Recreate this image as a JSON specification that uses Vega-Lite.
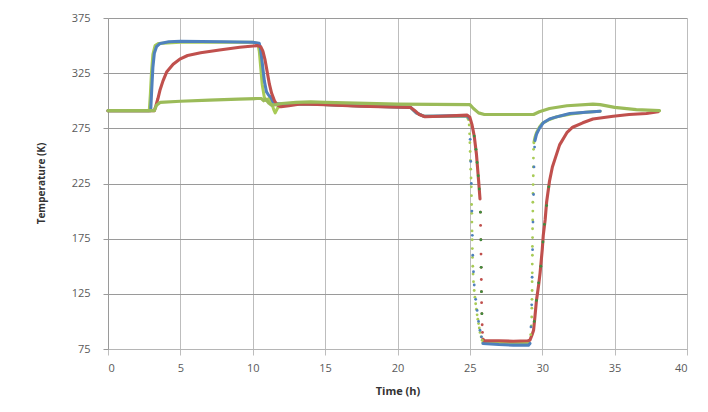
{
  "$schema": "https://vega.github.io/schema/vega-lite/v6.json",
  "width": 579,
  "height": 331,
  "autosize": {"type": "none"},
  "padding": {"left": 108, "top": 18, "right": 21, "bottom": 63},
  "background": "white",
  "config": {
    "view": {"stroke": null},
    "axis": {"labelFont": "Open Sans", "labelFontSize": 11, "labelColor": "#5a5a5a", "titleFont": "Open Sans", "titleColor": "#333"}
  },
  "data": {"values": [
    {"n":"L","t":0,"v":291,"s":1},{"n":"L","t":2.85,"v":291,"s":1},{"n":"L","t":2.92,"v":305,"s":1},{"n":"L","t":3.0,"v":325,"s":1},{"n":"L","t":3.1,"v":342,"s":1},{"n":"L","t":3.25,"v":350,"s":1},{"n":"L","t":3.5,"v":352,"s":1},{"n":"L","t":5,"v":353,"s":1},{"n":"L","t":10,"v":353,"s":1},{"n":"L","t":10.35,"v":352,"s":1},{"n":"L","t":10.45,"v":345,"s":1},{"n":"L","t":10.55,"v":330,"s":1},{"n":"L","t":10.65,"v":315,"s":1},{"n":"L","t":10.8,"v":303,"s":1},{"n":"L","t":10.95,"v":300,"s":1},{"n":"L","t":11.1,"v":302,"s":1},{"n":"L","t":11.3,"v":298,"s":1},{"n":"L","t":11.45,"v":292,"s":1},{"n":"L","t":11.55,"v":289,"s":1},{"n":"L","t":11.7,"v":293,"s":1},{"n":"L","t":12,"v":296.5,"s":1},{"n":"L","t":14,"v":297,"s":1},{"n":"L","t":17,"v":295.5,"s":1},{"n":"L","t":20.9,"v":294,"s":1},{"n":"L","t":21.3,"v":289,"s":1},{"n":"L","t":21.8,"v":286,"s":1},{"n":"L","t":24.8,"v":286,"s":1},{"n":"L","t":24.9,"v":283,"s":1},
    {"n":"L","t":24.95,"v":278,"s":0},{"n":"L","t":24.98,"v":270,"s":0},{"n":"L","t":25.0,"v":262,"s":0},{"n":"L","t":25.02,"v":254,"s":0},{"n":"L","t":25.04,"v":246,"s":0},{"n":"L","t":25.06,"v":238,"s":0},{"n":"L","t":25.08,"v":230,"s":0},{"n":"L","t":25.1,"v":222,"s":0},{"n":"L","t":25.11,"v":214,"s":0},{"n":"L","t":25.12,"v":206,"s":0},{"n":"L","t":25.13,"v":198,"s":0},{"n":"L","t":25.14,"v":190,"s":0},{"n":"L","t":25.15,"v":182,"s":0},{"n":"L","t":25.16,"v":174,"s":0},{"n":"L","t":25.17,"v":166,"s":0},{"n":"L","t":25.18,"v":158,"s":0},{"n":"L","t":25.2,"v":150,"s":0},{"n":"L","t":25.22,"v":143,"s":0},{"n":"L","t":25.25,"v":136,"s":0},{"n":"L","t":25.3,"v":128,"s":0},{"n":"L","t":25.35,"v":122,"s":0},{"n":"L","t":25.4,"v":116,"s":0},{"n":"L","t":25.45,"v":111,"s":0},{"n":"L","t":25.5,"v":106,"s":0},{"n":"L","t":25.55,"v":102,"s":0},{"n":"L","t":25.6,"v":98,"s":0},{"n":"L","t":25.65,"v":94,"s":0},{"n":"L","t":25.7,"v":90,"s":0},{"n":"L","t":25.78,"v":86,"s":0},{"n":"L","t":25.85,"v":83,"s":0},
    {"n":"L","t":25.9,"v":81,"s":2},{"n":"L","t":27,"v":80,"s":2},{"n":"L","t":28,"v":80,"s":2},{"n":"L","t":29.1,"v":80.5,"s":2},
    {"n":"L","t":29.2,"v":88,"s":0},{"n":"L","t":29.25,"v":96,"s":0},{"n":"L","t":29.27,"v":104,"s":0},{"n":"L","t":29.28,"v":112,"s":0},{"n":"L","t":29.29,"v":120,"s":0},{"n":"L","t":29.3,"v":128,"s":0},{"n":"L","t":29.3,"v":136,"s":0},{"n":"L","t":29.31,"v":144,"s":0},{"n":"L","t":29.31,"v":152,"s":0},{"n":"L","t":29.32,"v":160,"s":0},{"n":"L","t":29.32,"v":168,"s":0},{"n":"L","t":29.33,"v":176,"s":0},{"n":"L","t":29.33,"v":184,"s":0},{"n":"L","t":29.34,"v":192,"s":0},{"n":"L","t":29.35,"v":200,"s":0},{"n":"L","t":29.35,"v":208,"s":0},{"n":"L","t":29.36,"v":216,"s":0},{"n":"L","t":29.37,"v":224,"s":0},{"n":"L","t":29.38,"v":232,"s":0},{"n":"L","t":29.38,"v":240,"s":0},{"n":"L","t":29.39,"v":248,"s":0},{"n":"L","t":29.4,"v":256,"s":0},
    {"n":"L","t":29.42,"v":262,"s":3},{"n":"L","t":29.5,"v":267,"s":3},{"n":"L","t":29.6,"v":271,"s":3},{"n":"L","t":29.8,"v":276,"s":3},{"n":"L","t":30,"v":279.5,"s":3},{"n":"L","t":30.5,"v":283,"s":3},{"n":"L","t":31,"v":285.5,"s":3},{"n":"L","t":32,"v":288,"s":3},{"n":"L","t":33,"v":289.5,"s":3},{"n":"L","t":34,"v":290.5,"s":3},

    {"n":"B","t":0,"v":291,"s":1},{"n":"B","t":2.95,"v":291,"s":1},{"n":"B","t":3.02,"v":310,"s":1},{"n":"B","t":3.1,"v":330,"s":1},{"n":"B","t":3.2,"v":343,"s":1},{"n":"B","t":3.35,"v":349,"s":1},{"n":"B","t":3.6,"v":352,"s":1},{"n":"B","t":4.2,"v":353.5,"s":1},{"n":"B","t":5,"v":354,"s":1},{"n":"B","t":8,"v":353.5,"s":1},{"n":"B","t":10,"v":353,"s":1},{"n":"B","t":10.45,"v":352,"s":1},{"n":"B","t":10.55,"v":346,"s":1},{"n":"B","t":10.65,"v":335,"s":1},{"n":"B","t":10.8,"v":318,"s":1},{"n":"B","t":10.95,"v":308,"s":1},{"n":"B","t":11.1,"v":305,"s":1},{"n":"B","t":11.25,"v":303,"s":1},{"n":"B","t":11.4,"v":299,"s":1},{"n":"B","t":11.6,"v":297.5,"s":1},{"n":"B","t":12,"v":297,"s":1},{"n":"B","t":14,"v":297,"s":1},{"n":"B","t":17,"v":295.5,"s":1},{"n":"B","t":20.9,"v":294,"s":1},{"n":"B","t":21.3,"v":289,"s":1},{"n":"B","t":21.8,"v":286,"s":1},{"n":"B","t":24.8,"v":286.5,"s":1},{"n":"B","t":24.95,"v":284,"s":1},
    {"n":"B","t":25.02,"v":265,"s":0},{"n":"B","t":25.06,"v":245,"s":0},{"n":"B","t":25.1,"v":225,"s":0},{"n":"B","t":25.14,"v":200,"s":0},{"n":"B","t":25.17,"v":178,"s":0},{"n":"B","t":25.2,"v":160,"s":0},{"n":"B","t":25.25,"v":145,"s":0},{"n":"B","t":25.3,"v":133,"s":0},{"n":"B","t":25.4,"v":120,"s":0},{"n":"B","t":25.5,"v":110,"s":0},{"n":"B","t":25.6,"v":100,"s":0},{"n":"B","t":25.7,"v":92,"s":0},{"n":"B","t":25.8,"v":86,"s":0},
    {"n":"B","t":25.9,"v":80,"s":2},{"n":"B","t":27,"v":79,"s":2},{"n":"B","t":28,"v":78.5,"s":2},{"n":"B","t":29.05,"v":78.5,"s":2},{"n":"B","t":29.15,"v":80,"s":2},
    {"n":"B","t":29.22,"v":95,"s":0},{"n":"B","t":29.27,"v":115,"s":0},{"n":"B","t":29.3,"v":140,"s":0},{"n":"B","t":29.33,"v":165,"s":0},{"n":"B","t":29.36,"v":190,"s":0},{"n":"B","t":29.4,"v":215,"s":0},{"n":"B","t":29.43,"v":240,"s":0},{"n":"B","t":29.47,"v":258,"s":0},
    {"n":"B","t":29.5,"v":264,"s":3},{"n":"B","t":29.6,"v":269.5,"s":3},{"n":"B","t":29.8,"v":275,"s":3},{"n":"B","t":30.07,"v":280,"s":3},{"n":"B","t":30.5,"v":283.5,"s":3},{"n":"B","t":30.8,"v":284.7,"s":3},{"n":"B","t":31.5,"v":287,"s":3},{"n":"B","t":31.9,"v":288.4,"s":3},{"n":"B","t":33,"v":289.5,"s":3},{"n":"B","t":33.5,"v":290,"s":3},{"n":"B","t":34,"v":290.5,"s":3},

    {"n":"R","t":0,"v":291,"s":1},{"n":"R","t":3.2,"v":291,"s":1},{"n":"R","t":3.3,"v":295,"s":1},{"n":"R","t":3.45,"v":302,"s":1},{"n":"R","t":3.6,"v":310,"s":1},{"n":"R","t":3.8,"v":318,"s":1},{"n":"R","t":4.05,"v":326,"s":1},{"n":"R","t":4.5,"v":333,"s":1},{"n":"R","t":5,"v":338,"s":1},{"n":"R","t":5.5,"v":341,"s":1},{"n":"R","t":6.4,"v":343.5,"s":1},{"n":"R","t":7.7,"v":346,"s":1},{"n":"R","t":9.1,"v":348.5,"s":1},{"n":"R","t":10.3,"v":350,"s":1},{"n":"R","t":10.55,"v":349,"s":1},{"n":"R","t":10.7,"v":345,"s":1},{"n":"R","t":10.85,"v":337,"s":1},{"n":"R","t":11.0,"v":326,"s":1},{"n":"R","t":11.15,"v":315,"s":1},{"n":"R","t":11.3,"v":307,"s":1},{"n":"R","t":11.5,"v":300,"s":1},{"n":"R","t":11.7,"v":296,"s":1},{"n":"R","t":11.95,"v":294.5,"s":1},{"n":"R","t":12.5,"v":295.5,"s":1},{"n":"R","t":13.3,"v":297,"s":1},{"n":"R","t":15,"v":296.5,"s":1},{"n":"R","t":17.4,"v":295,"s":1},{"n":"R","t":20.9,"v":294,"s":1},{"n":"R","t":21.2,"v":291,"s":1},{"n":"R","t":21.5,"v":287.5,"s":1},{"n":"R","t":21.9,"v":285.5,"s":1},{"n":"R","t":23,"v":286,"s":1},{"n":"R","t":24.8,"v":287,"s":1},{"n":"R","t":25.0,"v":285,"s":1},{"n":"R","t":25.15,"v":278,"s":1},{"n":"R","t":25.3,"v":268,"s":1},{"n":"R","t":25.45,"v":252,"s":1},{"n":"R","t":25.6,"v":228,"s":1},{"n":"R","t":25.7,"v":211,"s":1},
    {"n":"R","t":25.73,"v":199,"s":0},{"n":"R","t":25.74,"v":187,"s":0},{"n":"R","t":25.76,"v":174,"s":0},{"n":"R","t":25.77,"v":161,"s":0},{"n":"R","t":25.78,"v":149,"s":0},{"n":"R","t":25.79,"v":138,"s":0},{"n":"R","t":25.8,"v":127,"s":0},{"n":"R","t":25.81,"v":117,"s":0},{"n":"R","t":25.83,"v":107,"s":0},{"n":"R","t":25.85,"v":97,"s":0},{"n":"R","t":25.87,"v":90,"s":0},
    {"n":"R","t":25.9,"v":84,"s":2},{"n":"R","t":26,"v":82.5,"s":2},{"n":"R","t":27,"v":82.5,"s":2},{"n":"R","t":28,"v":82,"s":2},{"n":"R","t":29,"v":82.5,"s":2},{"n":"R","t":29.15,"v":83,"s":2},{"n":"R","t":29.3,"v":88,"s":2},{"n":"R","t":29.4,"v":92,"s":2},{"n":"R","t":29.5,"v":105,"s":2},{"n":"R","t":29.6,"v":119,"s":2},{"n":"R","t":29.75,"v":133,"s":2},{"n":"R","t":29.85,"v":144,"s":2},{"n":"R","t":30.0,"v":165,"s":2},{"n":"R","t":30.07,"v":178,"s":2},{"n":"R","t":30.2,"v":192,"s":2},{"n":"R","t":30.3,"v":208,"s":2},{"n":"R","t":30.5,"v":227,"s":2},{"n":"R","t":30.7,"v":240,"s":2},{"n":"R","t":30.9,"v":248,"s":2},{"n":"R","t":31.2,"v":260,"s":2},{"n":"R","t":31.7,"v":271,"s":2},{"n":"R","t":32.1,"v":276,"s":2},{"n":"R","t":32.8,"v":280,"s":2},{"n":"R","t":33.5,"v":283.5,"s":2},{"n":"R","t":34.9,"v":286,"s":2},{"n":"R","t":36,"v":287.5,"s":2},{"n":"R","t":37.2,"v":288.5,"s":2},{"n":"R","t":38,"v":290,"s":2},

    {"n":"G","t":0,"v":291,"s":1},{"n":"G","t":3.2,"v":291,"s":1},{"n":"G","t":3.35,"v":296,"s":1},{"n":"G","t":3.6,"v":298.5,"s":1},{"n":"G","t":5,"v":299.5,"s":1},{"n":"G","t":7,"v":300.5,"s":1},{"n":"G","t":9,"v":301.5,"s":1},{"n":"G","t":10.3,"v":302,"s":1},{"n":"G","t":10.6,"v":302,"s":1},{"n":"G","t":10.75,"v":300,"s":1},{"n":"G","t":10.9,"v":301.5,"s":1},{"n":"G","t":11.1,"v":298,"s":1},{"n":"G","t":11.3,"v":296,"s":1},{"n":"G","t":11.6,"v":296.5,"s":1},{"n":"G","t":12,"v":297.5,"s":1},{"n":"G","t":13,"v":298.5,"s":1},{"n":"G","t":14,"v":299,"s":1},{"n":"G","t":15,"v":298.5,"s":1},{"n":"G","t":20,"v":297,"s":1},{"n":"G","t":25,"v":296.5,"s":1},{"n":"G","t":25.25,"v":293,"s":1},{"n":"G","t":25.6,"v":289,"s":1},{"n":"G","t":26,"v":287.5,"s":1},{"n":"G","t":29.4,"v":287.5,"s":1},{"n":"G","t":29.8,"v":290,"s":1},{"n":"G","t":30.5,"v":293,"s":1},{"n":"G","t":31.7,"v":295.5,"s":1},{"n":"G","t":33.5,"v":297,"s":1},{"n":"G","t":34,"v":296.5,"s":1},{"n":"G","t":35,"v":294,"s":1},{"n":"G","t":36.5,"v":292,"s":1},{"n":"G","t":38.1,"v":291,"s":1},

    {"n":"D","t":25.3,"v":268,"s":0},{"n":"D","t":25.42,"v":256,"s":0},{"n":"D","t":25.5,"v":244,"s":0},{"n":"D","t":25.58,"v":232,"s":0},{"n":"D","t":25.65,"v":220,"s":0},{"n":"D","t":25.73,"v":199,"s":0},{"n":"D","t":25.76,"v":174,"s":0},{"n":"D","t":25.78,"v":149,"s":0},{"n":"D","t":25.8,"v":127,"s":0},{"n":"D","t":25.83,"v":107,"s":0},{"n":"D","t":29.45,"v":100,"s":0},{"n":"D","t":29.6,"v":119,"s":0},{"n":"D","t":29.75,"v":135,"s":0},{"n":"D","t":29.9,"v":150,"s":0},{"n":"D","t":30.05,"v":172,"s":0},{"n":"D","t":30.15,"v":188,"s":0},{"n":"D","t":30.3,"v":205,"s":0},{"n":"D","t":30.45,"v":222,"s":0}
  ]},
  "encoding": {
    "x": {"field": "t", "type": "quantitative", "scale": {"domain": [0, 40], "nice": false},
      "axis": {"title": "Time (h)", "values": [0,5,10,15,20,25,30,35,40], "grid": true, "gridColor": "#bdbdbd", "tickColor": "#bdbdbd", "tickSize": 6, "domainColor": "#b5b5b5", "labelPadding": 7, "titlePadding": 12, "titleFontSize": 11, "titleFontWeight": "bold"}},
    "y": {"field": "v", "type": "quantitative", "scale": {"domain": [75, 375], "nice": false, "zero": false},
      "axis": {"title": "Temperature (K)", "values": [75,125,175,225,275,325,375], "grid": true, "gridColor": "#9a9a9a", "tickColor": "#9a9a9a", "tickSize": 5, "domainColor": "#9a9a9a", "labelPadding": 13, "titleFontSize": 10, "titleFontWeight": "bold", "titleX": -67, "titleY": 165, "titleBaseline": "middle", "titleAngle": -90}},
    "color": {"field": "n", "type": "nominal", "scale": {"domain": ["L","B","R","G","D"], "range": ["#A8CB56","#4F81BD","#C0504D","#9BBB59","#3D8E3E"]}, "legend": null}
  },
  "layer": [
    {
      "transform": [{"filter": "datum.s > 0"}],
      "mark": {"type": "line", "strokeCap": "round", "strokeJoin": "round"},
      "encoding": {
        "detail": {"field": "s", "type": "nominal"},
        "strokeWidth": {"field": "n", "type": "nominal", "scale": {"domain": ["L","B","R","G","D"], "range": [3,3.2,5,3,2]}, "legend": null}
      }
    },
    {
      "transform": [{"filter": "datum.s == 0"}],
      "mark": {"type": "point", "filled": true, "opacity": 1},
      "encoding": {
        "size": {"field": "n", "type": "nominal", "scale": {"domain": ["L","B","R","G","D"], "range": [8,8,24,8,9]}, "legend": null}
      }
    }
  ]
}
